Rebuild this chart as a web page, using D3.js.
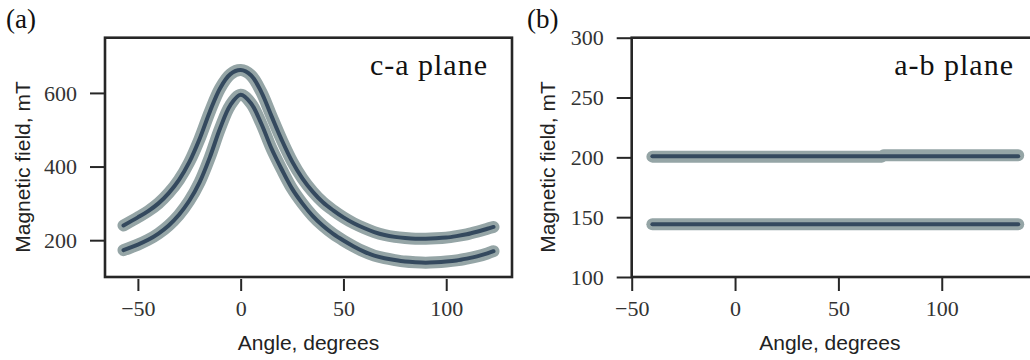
<!DOCTYPE html>
<html>
<head>
<meta charset="utf-8">
<script src="https://cdn.jsdelivr.net/npm/d3@7"></script>
<style>
  html, body { margin: 0; padding: 0; background: #fff; }
  svg { display: block; }
  .tick text { font-family: 'Liberation Serif', 'Times New Roman', serif; font-size: 22px; fill: #333; }
</style>
</head>
<body>
<svg id="fig" width="1030" height="360"></svg>
<script>
// Resonance field vs. rotation angle, c-a plane (two branches)
const caAngles = [-57,-50,-45,-40,-35,-30,-25,-20,-15,-10,-5,0,5,10,15,20,25,30,35,40,45,50,55,60,65,70,75,80,85,90,95,100,105,110,115,120,123];
const caUpper  = [240,262,279,300,328,364,412,475,549,613,651,662,648,603,537,472,414,368,332,303,281,262,246,233,222,214,209,206,204,204,205,207,211,216,223,231,236];
const caLower  = [173,188,201,218,240,269,307,357,425,504,567,595,572,517,449,392,340,300,266,239,217,199,183,169,158,151,146,142,140,139,140,142,145,150,156,164,170];

// a-b plane: field is flat with angle
const abAnglesUpperData = [-40, 71, 72, 137];
const abUpperData       = [200.6, 200.6, 201.8, 201.8];
const abAnglesFit       = [-40, 137];
const abUpperFit        = [201, 201];
const abLowerData       = [144, 144];
const abLowerFit        = [144, 144];

// Axis ticks
const caXTicks = [-50, 0, 50, 100];
const caYTicks = [200, 400, 600];
const abXTicks = [-50, 0, 50, 100];
const abYTicks = [100, 150, 200, 250, 300];

const dataColor = "#95a5a6";
const fitColor  = "#34495e";
const spineColor = "#262626";
const serif = "'Liberation Serif', 'Times New Roman', serif";
const sans  = "'Liberation Sans', Arial, sans-serif";

const svg = d3.select("#fig");

function panel(opts) {
  const g = svg.append("g");
  const x = d3.scaleLinear().domain(opts.xDomain).range(opts.xRange);
  const y = d3.scaleLinear().domain(opts.yDomain).range(opts.yRange);
  const [x0, x1] = opts.xRange;
  const [y0, y1] = opts.yRange; // y0 bottom, y1 top

  const line = d3.line().x(d => x(d[0])).y(d => y(d[1])).curve(opts.curve);

  // series: grey data band underneath, dark fit on top
  opts.series.forEach(s => {
    g.append("path")
      .attr("d", line(d3.zip(s.dataX, s.dataY)))
      .attr("fill", "none")
      .attr("stroke", dataColor)
      .attr("stroke-width", 12)
      .attr("stroke-linecap", "round")
      .attr("stroke-linejoin", "round");
  });
  opts.series.forEach(s => {
    g.append("path")
      .attr("d", line(d3.zip(s.fitX, s.fitY)))
      .attr("fill", "none")
      .attr("stroke", fitColor)
      .attr("stroke-width", 4)
      .attr("stroke-linecap", "round")
      .attr("stroke-linejoin", "round");
  });

  // frame
  g.append("rect")
    .attr("x", x0).attr("y", y1)
    .attr("width", x1 - x0).attr("height", y0 - y1)
    .attr("fill", "none")
    .attr("stroke", spineColor)
    .attr("stroke-width", 2.6);

  // x axis
  const xAxis = d3.axisBottom(x).tickValues(opts.xTicks)
    .tickSize(opts.xTickLen).tickPadding(9)
    .tickFormat(d => d < 0 ? "\u2212" + Math.abs(d) : d);
  const xg = g.append("g")
    .attr("transform", `translate(0,${y0 + opts.xTickGap})`)
    .call(xAxis)
    .attr("font-family", serif).attr("font-size", 22);
  xg.select(".domain").remove();
  xg.selectAll(".tick line").attr("stroke", spineColor).attr("stroke-width", 2);
  xg.selectAll(".tick text").attr("dy", "0.72em");

  // y axis
  const yAxis = d3.axisLeft(y).tickValues(opts.yTicks)
    .tickSize(15).tickPadding(13);
  const yg = g.append("g")
    .attr("transform", `translate(${x0},0)`)
    .call(yAxis)
    .attr("font-family", serif).attr("font-size", 22);
  yg.select(".domain").remove();
  yg.selectAll(".tick line").attr("stroke", spineColor).attr("stroke-width", 2);
  yg.selectAll(".tick text").attr("dy", "0.33em");

  // axis titles
  g.append("text")
    .attr("x", (x0 + opts.xCenterRight) / 2).attr("y", 350)
    .attr("text-anchor", "middle")
    .attr("font-family", sans).attr("font-size", 21).attr("fill", "#222")
    .text("Angle, degrees");
  g.append("text")
    .attr("transform", `translate(${opts.yTitleX},167) rotate(-90)`)
    .attr("text-anchor", "middle")
    .attr("font-family", sans).attr("font-size", 21).attr("fill", "#222")
    .text("Magnetic field, mT");

  // in-plot annotation
  g.append("text")
    .attr("x", opts.noteX).attr("y", 75)
    .attr("text-anchor", "end")
    .attr("font-family", serif).attr("font-size", 30).attr("fill", "#111")
    .attr("letter-spacing", 1)
    .text(opts.note);

  // panel letter
  g.append("text")
    .attr("x", opts.letterX).attr("y", 28)
    .attr("font-family", serif).attr("font-size", 27).attr("fill", "#111")
    .text(opts.letter);
}

panel({
  xDomain: [-66, 132], xRange: [105, 512],
  yDomain: [100, 750], yRange: [277, 37.7],
  xTicks: caXTicks, yTicks: caYTicks,
  xTickGap: 2, xTickLen: 12,
  xCenterRight: 512,
  yTitleX: 30,
  curve: d3.curveCatmullRom.alpha(0.5),
  note: "c-a plane", noteX: 488,
  letter: "(a)", letterX: 6,
  series: [
    { dataX: caAngles, dataY: caUpper, fitX: caAngles, fitY: caUpper },
    { dataX: caAngles, dataY: caLower, fitX: caAngles, fitY: caLower }
  ]
});

panel({
  xDomain: [-50, 147], xRange: [631.7, 1038.9],
  yDomain: [100, 300], yRange: [277, 37.7],
  xTicks: abXTicks, yTicks: abYTicks,
  xTickGap: 0, xTickLen: 14,
  xCenterRight: 1028,
  yTitleX: 555,
  curve: d3.curveLinear,
  note: "a-b plane", noteX: 1014,
  letter: "(b)", letterX: 527,
  series: [
    { dataX: abAnglesUpperData, dataY: abUpperData, fitX: abAnglesFit, fitY: abUpperFit },
    { dataX: abAnglesFit, dataY: abLowerData, fitX: abAnglesFit, fitY: abLowerFit }
  ]
});
</script>
</body>
</html>
